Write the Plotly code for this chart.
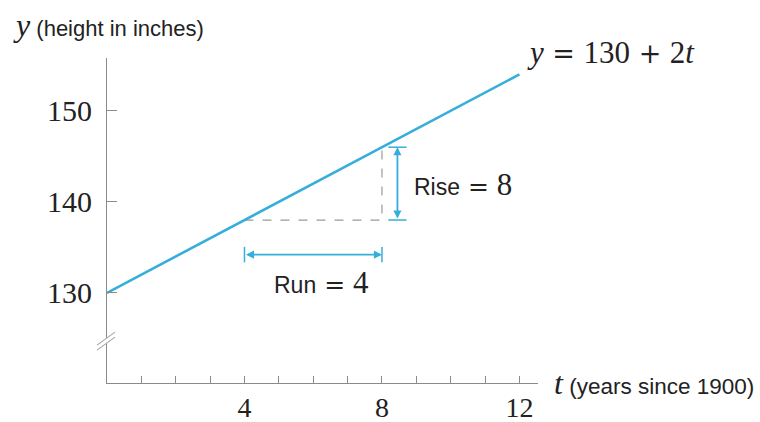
import plotly.graph_objects as go

# Height model y = 130 + 2t
t_vals = [0, 4, 8, 12]
heights = [130, 138, 146, 154]

# Run / rise between t = 4 and t = 8
run_t = [4, 8]
rise_y = [138, 146]
run_level = 134.2      # height at which the run arrow is drawn
rise_t = 8.45          # t position of the rise arrow
break_y = 124.7        # where the y-axis break mark sits

x_ticks = list(range(1, 13))
x_tick_text = ["4" if v == 4 else "8" if v == 8 else "12" if v == 12 else "" for v in x_ticks]
y_ticks = [130, 140, 150]
y_tick_text = ["130", "140", "150"]

x_range = [0, 12.54]
y_range = [120.1, 155.8]

LINE = "#36aedb"
AXIS = "#8a8a8a"
TEXT = "#222222"
SERIF = "Liberation Serif"
SANS = "Liberation Sans"
OPS = "DejaVu Serif"   # wider math operators
NB = "\u00a0"

fig = go.Figure()

# Dashed guide lines forming the slope triangle
fig.add_trace(go.Scatter(
    x=[run_t[0], run_t[1], run_t[1]],
    y=[rise_y[0], rise_y[0], rise_y[1]],
    mode="lines", line=dict(color="#9a9a9a", width=1.2, dash="dash"),
    hoverinfo="skip", showlegend=False,
))

# The line itself
fig.add_trace(go.Scatter(
    x=[t_vals[0], t_vals[-1]], y=[heights[0], heights[-1]],
    mode="lines", line=dict(color=LINE, width=2.6),
    hoverinfo="skip", showlegend=False,
))

# End caps for the run and rise arrows
fig.add_trace(go.Scatter(
    x=run_t, y=[run_level, run_level], mode="markers",
    marker=dict(symbol="line-ns-open", size=11, color=LINE, line=dict(color=LINE, width=1.5)),
    hoverinfo="skip", showlegend=False,
))
fig.add_trace(go.Scatter(
    x=[rise_t, rise_t], y=rise_y, mode="markers",
    marker=dict(symbol="line-ew-open", size=13, color=LINE, line=dict(color=LINE, width=1.5)),
    hoverinfo="skip", showlegend=False,
))

annotations = []
# Double-headed arrows
annotations.append(dict(
    x=run_t[1], y=run_level, ax=run_t[0], ay=run_level,
    xref="x", yref="y", axref="x", ayref="y", text="",
    showarrow=True, arrowhead=2, arrowside="end+start", arrowsize=0.9,
    arrowwidth=1.8, arrowcolor=LINE, standoff=0, startstandoff=0,
))
annotations.append(dict(
    x=rise_t, y=rise_y[1], ax=rise_t, ay=rise_y[0],
    xref="x", yref="y", axref="x", ayref="y", text="",
    showarrow=True, arrowhead=2, arrowside="end+start", arrowsize=0.9,
    arrowwidth=1.8, arrowcolor=LINE, standoff=0, startstandoff=0,
))


def span(s, family, size):
    return "<span style='font-family:" + family + ";font-size:" + str(size) + "px'>" + s + "</span>"


def op(sym, size=27):
    # operator with thin padding on both sides
    return span(NB + sym + NB, OPS, size)


annotations.append(dict(
    x=rise_t, y=(rise_y[0] + rise_y[1]) / 2, xref="x", yref="y",
    text="Rise" + op("=", 25) + span(str(rise_y[1] - rise_y[0]), SERIF, 31),
    showarrow=False, xanchor="left", yanchor="middle", xshift=15, yshift=-1,
    font=dict(family=SANS, size=23, color=TEXT),
))
annotations.append(dict(
    x=(run_t[0] + run_t[1]) / 2, y=run_level, xref="x", yref="y",
    text="Run" + op("=", 25) + span(str(run_t[1] - run_t[0]), SERIF, 31),
    showarrow=False, xanchor="center", yanchor="middle", xshift=8, yshift=-28,
    font=dict(family=SANS, size=23, color=TEXT),
))
annotations.append(dict(
    x=t_vals[-1], y=heights[-1], xref="x", yref="y",
    text="<i>y</i>" + op("=") + "130" + op("+") + "2<i>t</i>",
    showarrow=False, xanchor="left", yanchor="middle", xshift=6, yshift=22,
    font=dict(family=SERIF, size=31, color=TEXT),
))
# Axis titles
annotations.append(dict(
    x=0, y=1, xref="paper", yref="paper",
    text=span("<i>y</i>", SERIF, 32) + " (height in inches)",
    showarrow=False, xanchor="left", yanchor="middle", xshift=-96, yshift=33,
    font=dict(family=SANS, size=22, color=TEXT),
))
annotations.append(dict(
    x=1, y=0, xref="paper", yref="paper",
    text=span("<i>t</i>", SERIF, 32) + " (years since 1900)",
    showarrow=False, xanchor="left", yanchor="middle", xshift=14, yshift=0,
    font=dict(family=SANS, size=22.5, color=TEXT),
))

# Axis break mark on the y axis
break_frac = (break_y - y_range[0]) / (y_range[1] - y_range[0])
shapes = [
    dict(type="path", xref="paper", yref="paper", xsizemode="pixel", ysizemode="pixel",
         xanchor=0, yanchor=break_frac,
         path="M-10,-9 L-10,-4 L8,9 L8,4 Z", fillcolor="white",
         line=dict(width=0), layer="above"),
    dict(type="line", xref="paper", yref="paper", xsizemode="pixel", ysizemode="pixel",
         xanchor=0, yanchor=break_frac, x0=-10, y0=-9, x1=8, y1=4,
         line=dict(color="#a8a8a8", width=1.2), layer="above"),
    dict(type="line", xref="paper", yref="paper", xsizemode="pixel", ysizemode="pixel",
         xanchor=0, yanchor=break_frac, x0=-10, y0=-4, x1=8, y1=9,
         line=dict(color="#a8a8a8", width=1.2), layer="above"),
]

fig.update_layout(
    width=760, height=422,
    margin=dict(l=107, r=222, t=58, b=39, autoexpand=False),
    paper_bgcolor="white", plot_bgcolor="white",
    showlegend=False,
    annotations=annotations,
    shapes=shapes,
    xaxis=dict(
        range=x_range, showgrid=False, zeroline=False, automargin=False,
        showline=True, linecolor=AXIS, linewidth=1.2,
        tickmode="array", tickvals=x_ticks, ticktext=x_tick_text,
        ticks="inside", ticklen=7, tickwidth=1, tickcolor=AXIS,
        tickfont=dict(family=SERIF, size=28, color=TEXT),
        ticklabelstandoff=-1,
    ),
    yaxis=dict(
        range=y_range, showgrid=False, zeroline=False, automargin=False,
        showline=True, linecolor=AXIS, linewidth=1.2,
        tickmode="array", tickvals=y_ticks, ticktext=y_tick_text,
        ticks="inside", ticklen=10, tickwidth=1, tickcolor=AXIS,
        tickfont=dict(family=SERIF, size=30, color=TEXT),
        ticklabelstandoff=8,
    ),
)

fig.write_html("out.html")
